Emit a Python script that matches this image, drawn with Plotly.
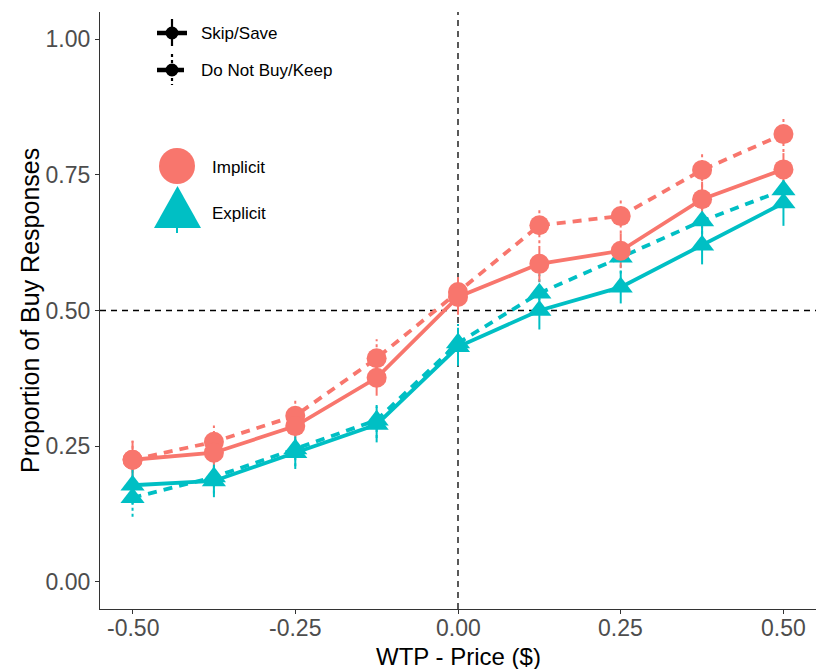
import plotly.graph_objects as go

# ---- data ----
wtp = [-0.5, -0.375, -0.25, -0.125, 0.0, 0.125, 0.25, 0.375, 0.5]

imp_skip = [0.225, 0.238, 0.287, 0.376, 0.525, 0.586, 0.610, 0.705, 0.760]
imp_skip_err = [0.035, 0.030, 0.030, 0.033, 0.033, 0.033, 0.032, 0.032, 0.030]
imp_keep = [0.225, 0.258, 0.306, 0.412, 0.534, 0.657, 0.674, 0.759, 0.825]
imp_keep_err = [0.035, 0.030, 0.033, 0.035, 0.033, 0.033, 0.032, 0.032, 0.033]

exp_skip = [0.178, 0.186, 0.238, 0.290, 0.433, 0.500, 0.543, 0.620, 0.698]
exp_skip_err = [0.035, 0.030, 0.030, 0.033, 0.035, 0.035, 0.030, 0.035, 0.042]
exp_keep = [0.155, 0.193, 0.245, 0.298, 0.440, 0.532, 0.598, 0.665, 0.722]
exp_keep_err = [0.035, 0.030, 0.032, 0.033, 0.035, 0.035, 0.030, 0.035, 0.033]

x_ticks = [-0.5, -0.25, 0.0, 0.25, 0.5]
x_ticklabels = ["-0.50", "-0.25", "0.00", "0.25", "0.50"]
y_ticks = [0.0, 0.25, 0.5, 0.75, 1.0]
y_ticklabels = ["0.00", "0.25", "0.50", "0.75", "1.00"]

x_title = "WTP - Price ($)"
y_title = "Proportion of Buy Responses"

RED = "#F8766D"
TEAL = "#00BFC4"
FONT = "Liberation Sans, Arial, sans-serif"

fig = go.Figure()


def errbar_trace(xs, ys, errs, color, dash):
    ex, ey = [], []
    for xv, yv, e in zip(xs, ys, errs):
        ex += [xv, xv, None]
        ey += [yv - e, yv + e, None]
    return go.Scatter(x=ex, y=ey, mode="lines", hoverinfo="skip", showlegend=False,
                      line=dict(color=color, width=2, dash=dash))


series = [
    (imp_keep, imp_keep_err, RED, "circle", 20, "9px,7px", "3px,3px"),
    (exp_keep, exp_keep_err, TEAL, "triangle-up", 21, "9px,7px", "3px,3px"),
    (imp_skip, imp_skip_err, RED, "circle", 20, "solid", "solid"),
    (exp_skip, exp_skip_err, TEAL, "triangle-up", 21, "solid", "solid"),
]

for ys, errs, col, sym, sz, ldash, edash in series:
    fig.add_trace(errbar_trace(wtp, ys, errs, col, edash))
for ys, errs, col, sym, sz, ldash, edash in series:
    fig.add_trace(go.Scatter(x=wtp, y=ys, mode="lines+markers", showlegend=False,
                             line=dict(color=col, width=3.8, dash=ldash),
                             marker=dict(symbol=sym, size=sz, color=col, line=dict(width=0))))

# ---- reference lines ----
fig.add_shape(type="line", xref="x", yref="paper", x0=0, x1=0, y0=0, y1=1,
              line=dict(color="black", width=1.3, dash="6px,5px"), layer="below")
fig.add_shape(type="line", xref="paper", yref="y", x0=0, x1=1, y0=0.5, y1=0.5,
              line=dict(color="black", width=1.3, dash="6px,5px"), layer="below")

# ---- manual legend (pixel positions converted to paper coords) ----
L, R, T, B = 100, 816, 12, 609


def px(xp):
    return (xp - L) / (R - L)


def py(yp):
    return (B - yp) / (B - T)


# Skip/Save
fig.add_shape(type="line", xref="paper", yref="paper", x0=px(157), x1=px(187), y0=py(33), y1=py(33),
              line=dict(color="black", width=4.5))
fig.add_shape(type="line", xref="paper", yref="paper", x0=px(172), x1=px(172), y0=py(19), y1=py(46),
              line=dict(color="black", width=2.2))
fig.add_shape(type="circle", xref="paper", yref="paper", x0=px(165.5), x1=px(178.5), y0=py(26.5), y1=py(39.5),
              fillcolor="black", line=dict(width=0))
# Do Not Buy/Keep
fig.add_shape(type="line", xref="paper", yref="paper", x0=px(157), x1=px(187), y0=py(70), y1=py(70),
              line=dict(color="black", width=4.5, dash="10px,7px"))
fig.add_shape(type="line", xref="paper", yref="paper", x0=px(172), x1=px(172), y0=py(54), y1=py(85),
              line=dict(color="black", width=2.2, dash="3px,3px"))
fig.add_shape(type="circle", xref="paper", yref="paper", x0=px(165.5), x1=px(178.5), y0=py(63.5), y1=py(76.5),
              fillcolor="black", line=dict(width=0))
# Implicit
fig.add_shape(type="circle", xref="paper", yref="paper", x0=px(159), x1=px(195), y0=py(148), y1=py(184),
              fillcolor=RED, line=dict(width=0))
# Explicit
fig.add_shape(type="line", xref="paper", yref="paper", x0=px(177), x1=px(177), y0=py(220), y1=py(233),
              line=dict(color=TEAL, width=2))
fig.add_shape(type="path", xref="paper", yref="paper",
              path=f"M {px(154)},{py(228)} L {px(201)},{py(228)} L {px(177.5)},{py(186)} Z",
              fillcolor=TEAL, line=dict(width=0))

leg_font = dict(family=FONT, size=17, color="black")
for txt, xp, yp in [("Skip/Save", 199, 33), ("Do Not Buy/Keep", 199, 70),
                    ("Implicit", 210, 167), ("Explicit", 210, 213)]:
    fig.add_annotation(x=px(xp), y=py(yp), xref="paper", yref="paper", text=txt, showarrow=False,
                       xanchor="left", yanchor="middle", font=leg_font)

# x tick labels as annotations (placed closer to the axis, as in the reference)
for tv, tl in zip(x_ticks, x_ticklabels):
    fig.add_annotation(x=tv, y=py(628), xref="x", yref="paper", text=tl, showarrow=False,
                       xanchor="center", yanchor="middle",
                       font=dict(family=FONT, size=23, color="#4D4D4D"))

# axis titles
fig.add_annotation(x=px(458), y=py(656), xref="paper", yref="paper", text=x_title, showarrow=False,
                   xanchor="center", yanchor="middle", font=dict(family=FONT, size=24, color="black"))
fig.add_annotation(x=px(30), y=py(311), xref="paper", yref="paper", text=y_title, showarrow=False,
                   textangle=-90, xanchor="center", yanchor="middle",
                   font=dict(family=FONT, size=25, color="black"))

axis_common = dict(showgrid=False, zeroline=False, showline=True, linecolor="#333333", linewidth=1.2,
                   ticks="outside", ticklen=4, tickwidth=1.2, tickcolor="#333333",
                   tickfont=dict(family=FONT, size=23, color="#4D4D4D"),
                   mirror=False)

fig.update_layout(
    width=816, height=669,
    margin=dict(l=L, r=0, t=T, b=669 - B),
    plot_bgcolor="white", paper_bgcolor="white",
    xaxis=dict(range=[-0.55, 0.55], tickvals=x_ticks, showticklabels=False, **axis_common),
    yaxis=dict(range=[-0.05, 1.05], tickvals=y_ticks, ticktext=y_ticklabels, **axis_common),
    showlegend=False,
)

fig.write_html("out.html")
